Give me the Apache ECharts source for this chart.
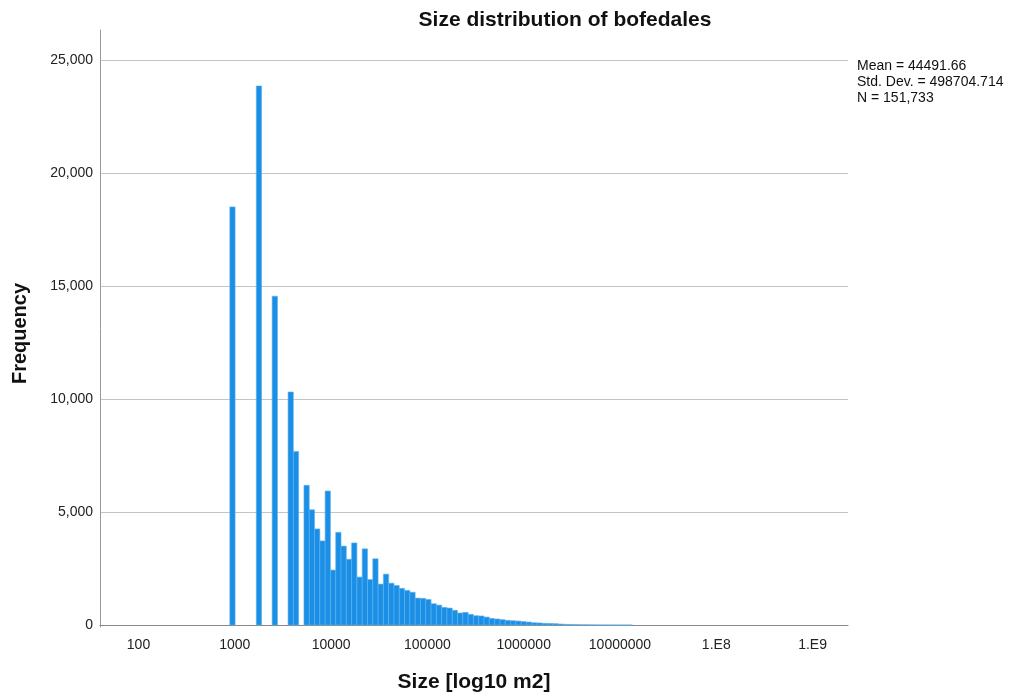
<!DOCTYPE html>
<html>
<head>
<meta charset="utf-8">
<script src="https://cdn.jsdelivr.net/npm/echarts@6/dist/echarts.min.js"></script>
<style>html,body{margin:0;padding:0;background:#fff}#c{width:1012px;height:698px}</style>
</head>
<body>
<div id="c"></div>
<script>
// Histogram bins (equal width in log10 of size, m2)
const binStartLog = 2.948;
const binWidthLog = 0.055;
const frequencies = [
  18500, 0, 0, 0, 0, 23850, 0, 0, 14550, 0,
  0, 10310, 7680, 0, 6180, 5100, 4250, 3720, 5930, 2430,
  4100, 3490, 2910, 3630, 2120, 3370, 2010, 2930, 1810, 2250,
  1850, 1750, 1620, 1530, 1450, 1190, 1180, 1130, 940, 880,
  780, 750, 650, 530, 560, 470, 410, 400, 350, 290,
  265, 235, 205, 190, 175, 150, 130, 100, 90, 75,
  70, 60, 45, 30, 24, 18, 12, 9, 6, 4,
  3, 2, 2, 1, 1, 1
];
const xTickValues = [2, 3, 4, 5, 6, 7, 8, 9];
const xTickLabels = ['100', '1000', '10000', '100000', '1000000', '10000000', '1.E8', '1.E9'];
const yTickValues = [0, 5000, 10000, 15000, 20000, 25000];
const statsLines = ['Mean = 44491.66', 'Std. Dev. = 498704.714', 'N = 151,733'];

const barData = frequencies.map((f, i) => [binStartLog + i * binWidthLog, binStartLog + (i + 1) * binWidthLog, f]);

const chart = echarts.init(document.getElementById('c'), null, {renderer: 'canvas'});
const font = 'Liberation Sans, Arial, sans-serif';

chart.setOption({
  animation: false,
  backgroundColor: '#fff',
  title: [
    {text: 'Size distribution of bofedales', left: 560, top: 5, textAlign: 'center',
     textStyle: {fontFamily: font, fontSize: 21, fontWeight: 'bold', color: '#111'}},
    {text: statsLines.join('\n'), left: 852, top: 53,
     textStyle: {fontFamily: font, fontSize: 14, fontWeight: 'normal', color: '#111', lineHeight: 16}}
  ],
  grid: [
    {left: 100, right: 164, top: 60, bottom: 71, containLabel: false},
    {left: 100, right: 164, top: 30, bottom: 71, containLabel: false}
  ],
  xAxis: [
    {type: 'value', gridIndex: 0, min: 1.6, max: 9.368, interval: 0.2,
     name: 'Size [log10 m2]', nameLocation: 'middle', nameGap: 47,
     nameTextStyle: {fontFamily: font, fontSize: 21, fontWeight: 'bold', color: '#111'},
     axisLine: {show: true, lineStyle: {color: '#888', width: 1}},
     axisTick: {show: false},
     splitLine: {show: false},
     axisLabel: {fontFamily: font, fontSize: 14, color: '#222', margin: 13,
       showMinLabel: false, showMaxLabel: false,
       formatter: v => {
         const r = Math.round(v);
         if (Math.abs(v - r) > 1e-6) return '';
         const idx = xTickValues.indexOf(r);
         return idx >= 0 ? xTickLabels[idx] : '';
       }}},
    {type: 'value', gridIndex: 1, show: false, min: 0, max: 1}
  ],
  yAxis: [
    {type: 'value', gridIndex: 0, min: 0, max: 25000, interval: 5000,
     axisLine: {show: false},
     axisTick: {show: false},
     splitLine: {show: true, lineStyle: {color: '#c4c4c4', width: 1.2}},
     axisLabel: {fontFamily: font, fontSize: 14, color: '#222', margin: 7,
       formatter: v => yTickValues.indexOf(v) >= 0 ? v.toLocaleString('en-US') : ''}},
    {type: 'value', gridIndex: 1, min: 0, max: 1,
     name: 'Frequency', nameLocation: 'middle', nameGap: 70, nameRotate: 90,
     nameTextStyle: {fontFamily: font, fontSize: 20, fontWeight: 'bold', color: '#111', padding: [0, 10, 0, 0]},
     axisLine: {show: true, lineStyle: {color: '#999', width: 1}},
     axisTick: {show: false}, axisLabel: {show: false}, splitLine: {show: false}}
  ],
  series: [{
    type: 'custom',
    xAxisIndex: 0, yAxisIndex: 0,
    data: barData,
    encode: {x: [0, 1], y: 2},
    renderItem: function (params, api) {
      const count = api.value(2);
      if (!count) return null;
      const p0 = api.coord([api.value(0), count]);
      const p1 = api.coord([api.value(1), 0]);
      return {
        type: 'rect',
        shape: {x: p0[0], y: p0[1], width: p1[0] - p0[0], height: p1[1] - p0[1]},
        style: {fill: '#1b8fe5', stroke: '#5db1f0', lineWidth: 0.6}
      };
    }
  }]
});
</script>
</body>
</html>
